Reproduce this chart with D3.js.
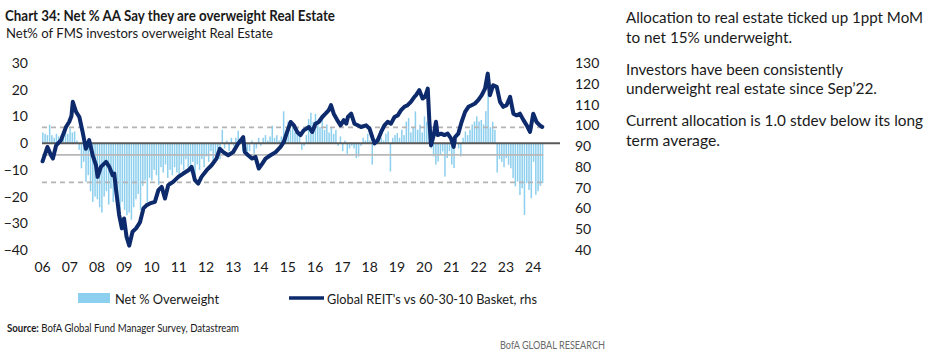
<!DOCTYPE html>
<html><head><meta charset="utf-8">
<script src="https://cdn.jsdelivr.net/npm/d3@7"></script>
<style>
html,body{margin:0;padding:0;background:#fff;}
svg{display:block;font-family:Lato,"Open Sans",sans-serif;}
</style></head>
<body>
<svg id="c" width="939" height="359"></svg>
<script>
// ---------- DATA ----------
const startYear = 2006;
const xTickLabels = ["06","07","08","09","10","11","12","13","14","15","16","17","18","19","20","21","22","23","24"];
const leftTicks = [30,20,10,0,-10,-20,-30,-40];
const rightTicks = [130,120,110,100,90,80,70,60,50,40];
// Net % overweight real estate, monthly from Jan 2006
const netOverweight = [
  4,3.5,3,6.9,3,2,3.5,2.5,3,4,5.6,3.5,
  5.6,4,4.4,1,-2.5,-9.4,-7,-14.5,-12,-18,-22,-20,
  -21,-24,-26,-20,-18,-23,-17,-22,-19,-24,-25,-22,
  -25,-27,-26,-28.7,-24,-21,-19,-25,-16,-14,-22,-13,
  -14,-10,-12,-15.6,-9,-11,-8,-13,-10,-12,-9,-11,
  -12,-8,-10,-6,-9,-11,-7,-13,-8,-10,-6,-9,
  -5,-7,-3,-8,-4,-2,-6,5,-2,1,-3,2,
  -1,2,4.6,1,-3,-2,-4,-3,1,-4,-2,2,
  -1,2,3,1,2.5,6.5,2,3,1,2.5,11.9,4,
  8,5,7,4,6,3,-2.5,-1,3,9,11.4,8,
  11,8,6,9,5,7,4,6,3.5,5,-1,2.5,
  -3,1,-4,-2,-1,-2,-5.6,-5,-1,2,1,3.5,
  1,-8,1,2,1.5,2,1,3.5,4.4,-10.6,2,3,
  3.8,2,5,3,8.1,9.4,4,6,11.9,5,6.9,4,
  10,8,8.1,-2,-5,-8,-6.9,-4.4,-3.1,-12.5,-5.6,-3,
  -8,-9.3,1,-2,-5,2,4.4,3,5,7,8.1,10,
  8.1,8.7,7,12,18.7,6,8,5,-11,-6,-7,-9,
  -5.6,-8.1,-9.4,-13,-16.2,-14.4,-19.4,-16.9,-26.9,-15,-17.5,-20.6,
  -7,-19.3,-18,-16,-15
];
const overweightAvg = -4.4;
const overweightStdev = 10.3;
// Global REIT's vs 60-30-10 basket (rhs)
const reitDates = [2006.02,2006.2,2006.33,2006.4,2006.52,2006.7,2006.88,2007.0,2007.08,2007.13,2007.25,2007.37,2007.49,2007.61,2007.73,2007.86,2007.98,2008.04,2008.16,2008.35,2008.47,2008.59,2008.65,2008.71,2008.83,2008.93,2009.01,2009.1,2009.2,2009.32,2009.45,2009.57,2009.6,2009.72,2009.84,2009.96,2010.14,2010.27,2010.39,2010.51,2010.63,2010.81,2011.0,2011.18,2011.37,2011.49,2011.61,2011.73,2011.85,2012.04,2012.22,2012.4,2012.52,2012.65,2012.83,2013.01,2013.19,2013.38,2013.44,2013.56,2013.71,2013.83,2013.95,2014.08,2014.2,2014.38,2014.57,2014.75,2014.87,2014.99,2015.12,2015.24,2015.36,2015.48,2015.6,2015.79,2015.91,2016.03,2016.15,2016.28,2016.4,2016.52,2016.6,2016.7,2016.83,2016.95,2017.07,2017.16,2017.22,2017.34,2017.46,2017.58,2017.7,2017.89,2018.01,2018.13,2018.2,2018.32,2018.44,2018.56,2018.68,2018.8,2018.93,2019.05,2019.17,2019.29,2019.41,2019.53,2019.66,2019.72,2019.84,2019.96,2020.05,2020.15,2020.21,2020.27,2020.37,2020.45,2020.51,2020.64,2020.76,2020.88,2021.0,2021.1,2021.15,2021.27,2021.39,2021.52,2021.64,2021.76,2021.88,2022.0,2022.13,2022.25,2022.35,2022.43,2022.55,2022.68,2022.8,2022.92,2023.04,2023.17,2023.29,2023.41,2023.53,2023.66,2023.78,2023.9,2024.02,2024.14,2024.26,2024.35];
const reitValues = [82.7,89.6,85.6,84.0,90.4,92.9,99.2,101.7,104.5,111.3,106.5,104.0,96.8,88.7,92.9,85.6,80.8,75.2,80.0,82.4,80.0,76.0,76.8,69.6,56.8,50.4,55.2,46.4,42.1,48.8,50.4,52.8,53.6,60.0,61.6,62.4,63.2,68.8,70.4,64.8,71.2,72.8,75.2,76.8,78.4,80.0,73.6,72.0,75.2,78.4,80.8,84.0,88.7,87.1,85.6,87.1,91.1,94.3,87.1,85.6,84.0,84.8,79.2,81.6,84.0,85.6,87.1,89.6,92.0,96.8,101.6,100.0,96.8,95.3,97.6,99.2,96.8,100.8,101.6,104.0,105.6,107.3,109.7,105.6,102.5,100.0,102.5,100.8,104.0,105.6,100.8,100.0,99.2,100.0,98.5,93.7,91.3,92.9,96.8,100.0,101.7,100.8,104.0,104.8,107.3,108.9,109.7,111.3,113.7,114.5,116.9,112.9,113.7,117.7,101.6,90.4,95.3,101.7,95.3,96.0,95.3,96.0,93.7,89.6,94.3,96.0,101.6,106.5,108.9,109.7,110.5,112.1,114.5,117.7,124.9,114.5,119.3,118.5,111.3,108.9,109.7,113.7,105.6,104.8,105.6,102.5,100.0,96.8,105.6,101.6,100.0,99.2];

const titleText = "Chart 34: Net % AA Say they are overweight Real Estate";
const subtitleText = "Net% of FMS investors overweight Real Estate";
const notes = [
  "Allocation to real estate ticked up 1ppt MoM",
  "to net 15% underweight.",
  "Investors have been consistently",
  "underweight real estate since Sep\u201922.",
  "Current allocation is 1.0 stdev below its long",
  "term average."
];
const legendLabels = ["Net % Overweight", "Global REIT's vs 60-30-10 Basket, rhs"];

// ---------- CHART ----------
const svg = d3.select("#c");
const barColor = "#8dcfee", lineColor = "#0c2a6c", ink = "#1a1a1a";

const x = d3.scaleLinear().domain([2006, 2025]).range([42, 560]);
const yL = d3.scaleLinear().domain([-40, 30]).range([250, 63]);
const yR = d3.scaleLinear().domain([40, 130]).range([250, 63]);

function fitText(sel, w) {
  sel.attr("textLength", w).attr("lengthAdjust", "spacingAndGlyphs");
}

// title
svg.append("text").attr("x", 5).attr("y", 20.5).attr("font-size", 14.5).attr("font-weight", 700)
  .attr("fill", ink).text(titleText).call(fitText, 330);
svg.append("text").attr("x", 6).attr("y", 37.5).attr("font-size", 13.5)
  .attr("fill", ink).text(subtitleText).call(fitText, 267);

// bars
const barData = netOverweight.map((v, i) => ({t: startYear + i / 12 + 0.03, v}));
svg.append("g").selectAll("rect").data(barData).join("rect")
  .attr("x", d => x(d.t) - 0.75)
  .attr("width", 1.5)
  .attr("y", d => Math.min(yL(d.v), yL(0)))
  .attr("height", d => Math.abs(yL(d.v) - yL(0)))
  .attr("fill", barColor);

// reference lines
const lastT = barData[barData.length - 1].t + 0.02;
const refG = svg.append("g");
[overweightAvg + overweightStdev, overweightAvg - overweightStdev].forEach(v => {
  refG.append("line").attr("x1", x(2006)).attr("x2", x(lastT)).attr("y1", yL(v)).attr("y2", yL(v))
    .attr("stroke", "#b4b4b4").attr("stroke-width", 1.6).attr("stroke-dasharray", "5,4");
});
refG.append("line").attr("x1", x(2006)).attr("x2", x(lastT)).attr("y1", yL(overweightAvg)).attr("y2", yL(overweightAvg))
  .attr("stroke", "#b8b8b8").attr("stroke-width", 1.8);
refG.append("line").attr("x1", x(2006)).attr("x2", x(2025)).attr("y1", yL(0)).attr("y2", yL(0))
  .attr("stroke", "#595959").attr("stroke-width", 2);

// REIT line
const lineData = reitDates.map((t, i) => ({t, v: reitValues[i]}));
svg.append("path").datum(lineData)
  .attr("fill", "none").attr("stroke", lineColor).attr("stroke-width", 4)
  .attr("stroke-linejoin", "round").attr("stroke-linecap", "round")
  .attr("d", d3.line().x(d => x(d.t)).y(d => yR(d.v)));

// axes
const axL = d3.axisLeft(yL).tickValues(leftTicks).tickSize(0).tickPadding(0).tickFormat(d3.format("d"));
const gL = svg.append("g").attr("transform", "translate(28,0)").call(axL);
const axR = d3.axisRight(yR).tickValues(rightTicks).tickSize(0).tickPadding(0);
const gR = svg.append("g").attr("transform", "translate(575,0)").call(axR);
const axX = d3.axisBottom(x).tickValues(d3.range(2006, 2025)).tickSize(0).tickPadding(0)
  .tickFormat((d, i) => xTickLabels[i]);
const gX = svg.append("g").attr("transform", "translate(0,262)").call(axX);
[gL, gR, gX].forEach(g => {
  g.select(".domain").remove();
  g.selectAll("text").attr("font-size", 14).attr("fill", ink).attr("font-family", "Lato, 'Open Sans', sans-serif");
});
gX.selectAll("text").attr("dy", "0.71em");

// legend
const lg = svg.append("g");
lg.append("rect").attr("x", 78).attr("y", 293).attr("width", 32).attr("height", 10).attr("fill", barColor);
lg.append("text").attr("x", 115).attr("y", 303.5).attr("font-size", 14).attr("fill", ink)
  .text(legendLabels[0]).call(fitText, 104);
lg.append("line").attr("x1", 289).attr("x2", 324).attr("y1", 298).attr("y2", 298)
  .attr("stroke", lineColor).attr("stroke-width", 3.5);
lg.append("text").attr("x", 327).attr("y", 303.5).attr("font-size", 14).attr("fill", ink)
  .text(legendLabels[1]).call(fitText, 210);

// source
const src = svg.append("text").attr("x", 7).attr("y", 331.5).attr("font-size", 10.5).attr("fill", ink);
src.append("tspan").attr("font-weight", 700).text("Source:");
src.append("tspan").text(" BofA Global Fund Manager Survey, Datastream");
src.call(fitText, 232);
svg.append("text").attr("x", 500).attr("y", 349).attr("font-size", 10.5).attr("fill", "#6b6b6b")
  .text("BofA GLOBAL RESEARCH").call(fitText, 105);

// notes on the right
const noteY = [22.8, 42.8, 74.5, 94, 126.2, 145.5];
const noteW = [297, 166, 217, 251, 297, 94];
notes.forEach((s, i) => {
  svg.append("text").attr("x", 626).attr("y", noteY[i]).attr("font-size", 15).attr("fill", ink)
    .text(s).call(fitText, noteW[i]);
});
</script>
</body></html>
